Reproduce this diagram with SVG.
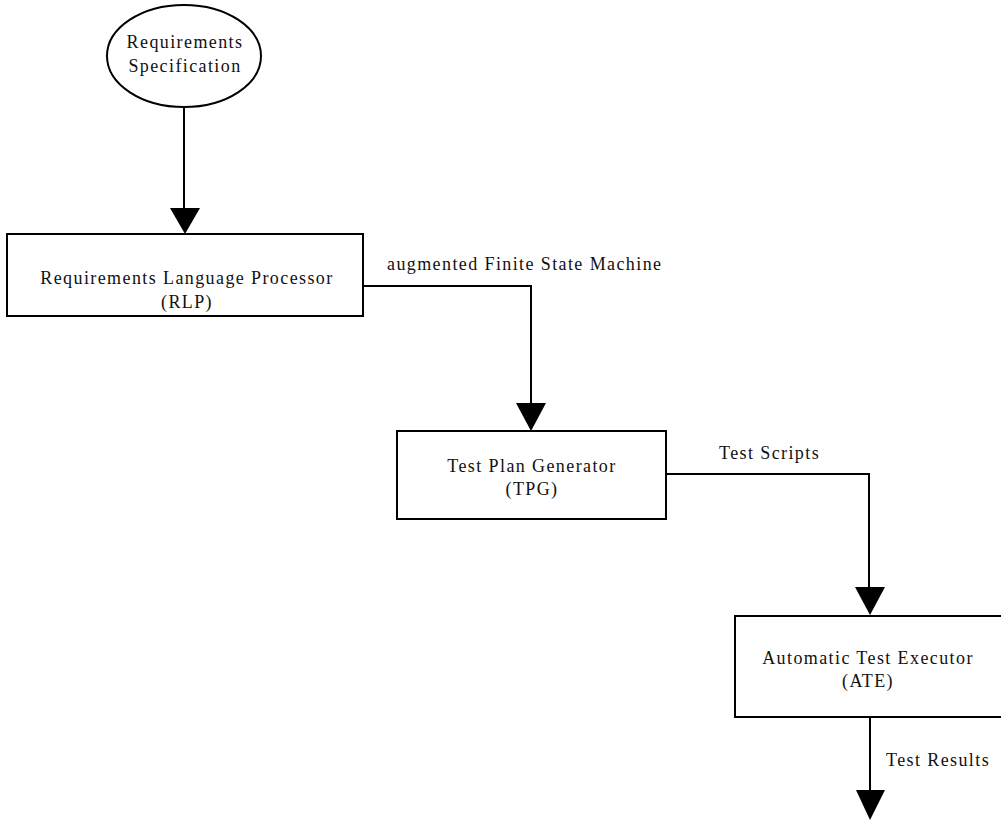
<svg xmlns="http://www.w3.org/2000/svg" width="1001" height="821" viewBox="0 0 1001 821">
<style>
.shape{fill:#fff;stroke:#000;stroke-width:2}
.wire{fill:none;stroke:#000;stroke-width:2}
.head{fill:#000;stroke:none}
text{font-family:"Liberation Serif","Times New Roman",serif;font-size:18px;letter-spacing:1.4px;fill:#111}
.c{text-anchor:middle}
</style>
<rect width="1001" height="821" fill="#fff"/>
<g id="connectors">
<path class="wire" d="M184,107 V210"/>
<polygon class="head" points="170,208 200,208 185,234"/>
<path class="wire" d="M363,286 H531 V405"/>
<polygon class="head" points="516,403 546,403 531,431"/>
<text x="387" y="270">augmented Finite State Machine</text>
<path class="wire" d="M666,474 H869 V590"/>
<polygon class="head" points="855,587 885,587 870,615"/>
<text x="719" y="459">Test Scripts</text>
<path class="wire" d="M870,717 V792"/>
<polygon class="head" points="856,790 885,790 870,820"/>
<text x="886" y="766">Test Results</text>
</g>
<g id="req-spec">
<ellipse class="shape" cx="184" cy="56" rx="77" ry="51"/>
<text class="c" x="185" y="48">Requirements</text>
<text class="c" x="185" y="72">Specification</text>
</g>
<g id="rlp">
<rect class="shape" x="7" y="234" width="356" height="82"/>
<text class="c" x="187" y="284">Requirements Language Processor</text>
<text class="c" x="187" y="308">(RLP)</text>
</g>
<g id="tpg">
<rect class="shape" x="397" y="431" width="269" height="88"/>
<text class="c" x="532" y="472">Test Plan Generator</text>
<text class="c" x="532" y="495">(TPG)</text>
</g>
<g id="ate">
<rect class="shape" x="735" y="616" width="280" height="101"/>
<text class="c" x="868" y="664">Automatic Test Executor</text>
<text class="c" x="868" y="687">(ATE)</text>
</g>
</svg>
